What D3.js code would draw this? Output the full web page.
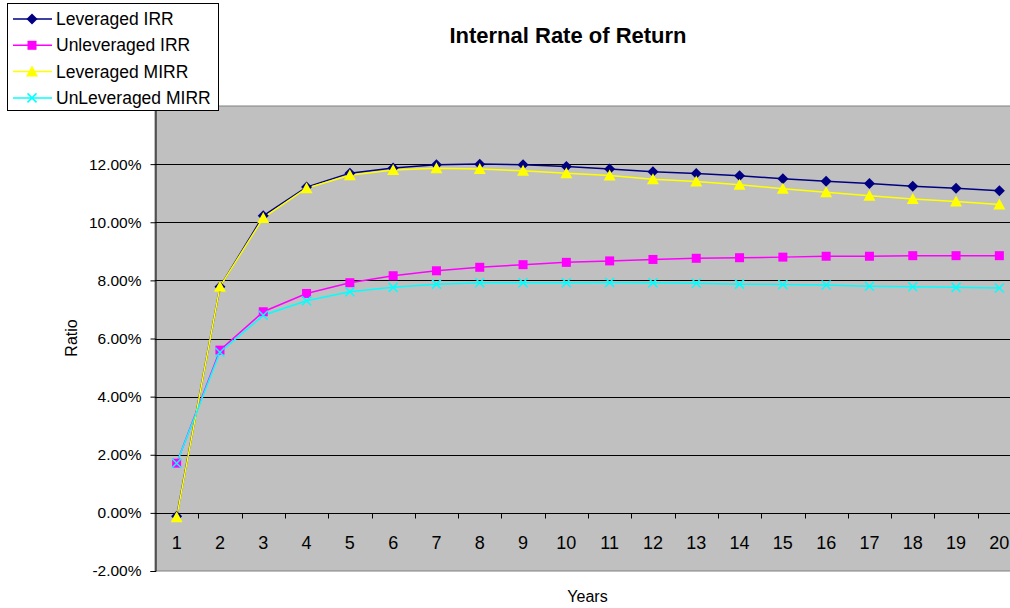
<!DOCTYPE html>
<html>
<head>
<meta charset="utf-8">
<script src="https://cdn.jsdelivr.net/npm/d3@7"></script>
<style>
  html, body { margin: 0; padding: 0; background: #fff; overflow: hidden; }
  svg { display: block; font-family: Arial, "Liberation Sans", sans-serif; }
</style>
</head>
<body>
<svg id="chart" width="1010" height="608"></svg>
<script>
// Years on the category axis
const years = d3.range(1, 21);

// Return series, in percent
const leveragedIRR = [-0.12, 7.78, 10.22, 11.21, 11.69, 11.87, 11.98, 12.00, 11.98, 11.92,
                      11.83, 11.74, 11.68, 11.60, 11.50, 11.41, 11.33, 11.24, 11.17, 11.08];
const unleveragedIRR = [1.71, 5.60, 6.92, 7.55, 7.92, 8.16, 8.33, 8.45, 8.54, 8.62,
                        8.67, 8.72, 8.76, 8.78, 8.80, 8.83, 8.83, 8.85, 8.85, 8.85];
const leveragedMIRR = [-0.15, 7.78, 10.15, 11.17, 11.62, 11.80, 11.86, 11.83, 11.77, 11.69,
                       11.61, 11.48, 11.40, 11.29, 11.15, 11.03, 10.91, 10.80, 10.71, 10.61];
const unleveragedMIRR = [1.71, 5.53, 6.80, 7.30, 7.61, 7.76, 7.87, 7.92, 7.92, 7.92,
                         7.93, 7.92, 7.90, 7.87, 7.86, 7.84, 7.80, 7.78, 7.76, 7.74];

// Value axis ticks
const yTicks = [-2, 0, 2, 4, 6, 8, 10, 12, 14];

const series = [
  { name: "Leveraged IRR", values: leveragedIRR, color: "#000080", marker: "diamond" },
  { name: "Unleveraged IRR", values: unleveragedIRR, color: "#FF00FF", marker: "square" },
  { name: "Leveraged MIRR", values: leveragedMIRR, color: "#FFFF00", marker: "triangle" },
  { name: "UnLeveraged MIRR", values: unleveragedMIRR, color: "#00FFFF", marker: "cross" }
];

const svg = d3.select("#chart");
const plot = { left: 155, top: 106, right: 1021, bottom: 571 };

const x = d3.scaleBand().domain(years).range([plot.left, plot.right]).padding(0);
const y = d3.scaleLinear().domain([-2, 14]).range([plot.bottom, plot.top]);
const cx = d => x(d) + x.bandwidth() / 2;

// Plot background
svg.append("rect")
  .attr("x", plot.left).attr("y", plot.top)
  .attr("width", plot.right - plot.left).attr("height", plot.bottom - plot.top)
  .attr("fill", "#C0C0C0").attr("stroke", "#808080").attr("stroke-width", 1);

// Horizontal gridlines
svg.append("g")
  .selectAll("line")
  .data(yTicks.filter(t => t > -2 && t < 14))
  .join("line")
  .attr("x1", plot.left).attr("x2", plot.right)
  .attr("y1", d => Math.round(y(d)) + 0.5).attr("y2", d => Math.round(y(d)) + 0.5)
  .attr("stroke", "#000").attr("stroke-width", 1);

// Value axis
const yAxis = svg.append("g")
  .attr("transform", `translate(${plot.left + 0.5},0)`)
  .call(d3.axisLeft(y).tickValues(yTicks).tickSize(5).tickPadding(9)
    .tickFormat(d => d.toFixed(2) + "%"));
yAxis.select(".domain").attr("stroke", "#000");
yAxis.selectAll(".tick line").attr("stroke", "#000");
yAxis.selectAll("text").attr("font-size", 15.5).attr("fill", "#000")
  .attr("font-family", "Arial, 'Liberation Sans', sans-serif");

// Category axis crossing at zero: ticks between categories, labels centered
const y0 = Math.round(y(0)) + 0.5;
const xAxis = svg.append("g");
xAxis.append("line")
  .attr("x1", plot.left).attr("x2", plot.right)
  .attr("y1", y0).attr("y2", y0).attr("stroke", "#000");
xAxis.selectAll("line.tick")
  .data(years.slice(1))
  .join("line").attr("class", "tick")
  .attr("x1", d => Math.round(x(d)) + 0.5).attr("x2", d => Math.round(x(d)) + 0.5)
  .attr("y1", y0).attr("y2", y0 + 5).attr("stroke", "#000");
xAxis.selectAll("text")
  .data(years)
  .join("text")
  .attr("x", cx).attr("y", y0 + 35)
  .attr("text-anchor", "middle").attr("font-size", 18).attr("fill", "#000")
  .text(d => d);

// Marker shapes
function drawMarker(g, type, color) {
  if (type === "diamond") {
    g.append("path").attr("d", "M0,-5.5L5.5,0L0,5.5L-5.5,0Z").attr("fill", color);
  } else if (type === "square") {
    g.append("rect").attr("x", -4.5).attr("y", -4.5).attr("width", 9).attr("height", 9)
      .attr("fill", color);
  } else if (type === "triangle") {
    g.append("path").attr("d", "M0,-6L6,5L-6,5Z").attr("fill", color);
  } else if (type === "cross") {
    g.append("path").attr("d", "M-4.5,-4.5L4.5,4.5M-4.5,4.5L4.5,-4.5")
      .attr("stroke", color).attr("stroke-width", 1.5).attr("fill", "none");
  }
}

// Series lines and markers
const line = d3.line().x((d, i) => cx(years[i])).y(d => y(d));
series.forEach(s => {
  svg.append("path")
    .datum(s.values)
    .attr("d", line)
    .attr("fill", "none").attr("stroke", s.color).attr("stroke-width", 1.5);
});
series.forEach(s => {
  const gm = svg.append("g");
  s.values.forEach((v, i) => {
    const g = gm.append("g").attr("transform", `translate(${cx(years[i])},${y(v)})`);
    drawMarker(g, s.marker, s.color);
  });
});

// Title and axis titles
svg.append("text")
  .attr("x", 568).attr("y", 43).attr("text-anchor", "middle")
  .attr("font-size", 22).attr("font-weight", "bold").attr("fill", "#000")
  .text("Internal Rate of Return");
svg.append("text")
  .attr("x", 587.5).attr("y", 602).attr("text-anchor", "middle")
  .attr("font-size", 16).attr("fill", "#000")
  .text("Years");
svg.append("text")
  .attr("transform", `translate(77,338) rotate(-90)`)
  .attr("text-anchor", "middle")
  .attr("font-size", 16).attr("fill", "#000")
  .text("Ratio");

// Legend
const legend = svg.append("g");
legend.append("rect")
  .attr("x", 7.5).attr("y", 3.5).attr("width", 211).attr("height", 107)
  .attr("fill", "#fff").attr("stroke", "#000").attr("stroke-width", 1);
series.forEach((s, i) => {
  const ly = 19 + i * 26.3;
  legend.append("line")
    .attr("x1", 13).attr("x2", 52).attr("y1", ly).attr("y2", ly)
    .attr("stroke", s.color).attr("stroke-width", 1.5);
  const g = legend.append("g").attr("transform", `translate(32,${ly})`);
  drawMarker(g, s.marker, s.color);
  legend.append("text")
    .attr("x", 56).attr("y", ly + 6)
    .attr("font-size", 17.5).attr("fill", "#000")
    .text(s.name);
});
</script>
</body>
</html>
